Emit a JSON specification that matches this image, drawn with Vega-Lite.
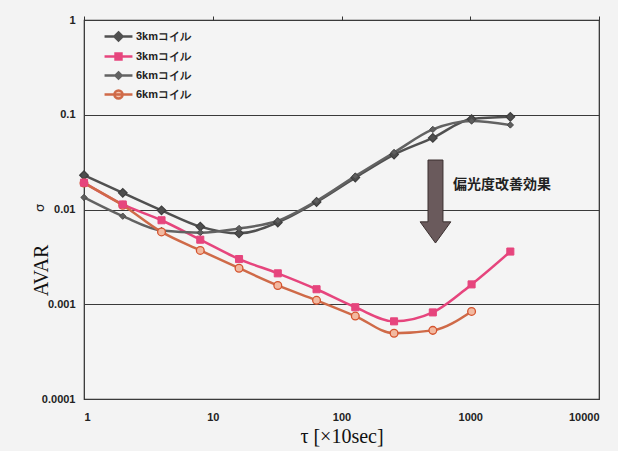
{
  "$schema": "https://vega.github.io/schema/vega-lite/v6.json",
  "width": 515,
  "height": 379,
  "autosize": {"type": "none"},
  "padding": {"left": 84, "top": 20, "right": 19, "bottom": 52},
  "background": "#f3f3f3",
  "config": {
    "view": {"stroke": "#2a2a2a", "strokeWidth": 1.2, "fill": "#f4f4f4"},
    "font": "Liberation Sans"
  },
  "datasets": {
    "avar": [
      {"s": "1_3kmコイル", "tau": 1, "avar": 0.023},
      {"s": "1_3kmコイル", "tau": 2, "avar": 0.015},
      {"s": "1_3kmコイル", "tau": 4, "avar": 0.0098},
      {"s": "1_3kmコイル", "tau": 8, "avar": 0.0066},
      {"s": "1_3kmコイル", "tau": 16, "avar": 0.0056},
      {"s": "1_3kmコイル", "tau": 32, "avar": 0.0073},
      {"s": "1_3kmコイル", "tau": 64, "avar": 0.012},
      {"s": "1_3kmコイル", "tau": 128, "avar": 0.0217},
      {"s": "1_3kmコイル", "tau": 256, "avar": 0.038},
      {"s": "1_3kmコイル", "tau": 512, "avar": 0.057},
      {"s": "1_3kmコイル", "tau": 1024, "avar": 0.09},
      {"s": "1_3kmコイル", "tau": 2048, "avar": 0.095},
      {"s": "2_3kmコイル", "tau": 1, "avar": 0.0192},
      {"s": "2_3kmコイル", "tau": 2, "avar": 0.0113},
      {"s": "2_3kmコイル", "tau": 4, "avar": 0.0077},
      {"s": "2_3kmコイル", "tau": 8, "avar": 0.0048},
      {"s": "2_3kmコイル", "tau": 16, "avar": 0.003},
      {"s": "2_3kmコイル", "tau": 32, "avar": 0.00212},
      {"s": "2_3kmコイル", "tau": 64, "avar": 0.00144},
      {"s": "2_3kmコイル", "tau": 128, "avar": 0.00093},
      {"s": "2_3kmコイル", "tau": 256, "avar": 0.00066},
      {"s": "2_3kmコイル", "tau": 512, "avar": 0.00082},
      {"s": "2_3kmコイル", "tau": 1024, "avar": 0.00162},
      {"s": "2_3kmコイル", "tau": 2048, "avar": 0.0036},
      {"s": "3_6kmコイル", "tau": 1, "avar": 0.0134},
      {"s": "3_6kmコイル", "tau": 2, "avar": 0.0085},
      {"s": "3_6kmコイル", "tau": 4, "avar": 0.006},
      {"s": "3_6kmコイル", "tau": 8, "avar": 0.0057},
      {"s": "3_6kmコイル", "tau": 16, "avar": 0.0063},
      {"s": "3_6kmコイル", "tau": 32, "avar": 0.0076},
      {"s": "3_6kmコイル", "tau": 64, "avar": 0.0123},
      {"s": "3_6kmコイル", "tau": 128, "avar": 0.0225},
      {"s": "3_6kmコイル", "tau": 256, "avar": 0.04},
      {"s": "3_6kmコイル", "tau": 512, "avar": 0.07},
      {"s": "3_6kmコイル", "tau": 1024, "avar": 0.086},
      {"s": "3_6kmコイル", "tau": 2048, "avar": 0.078},
      {"s": "4_6kmコイル", "tau": 1, "avar": 0.019},
      {"s": "4_6kmコイル", "tau": 2, "avar": 0.0111},
      {"s": "4_6kmコイル", "tau": 4, "avar": 0.0058},
      {"s": "4_6kmコイル", "tau": 8, "avar": 0.0037},
      {"s": "4_6kmコイル", "tau": 16, "avar": 0.0024},
      {"s": "4_6kmコイル", "tau": 32, "avar": 0.00158},
      {"s": "4_6kmコイル", "tau": 64, "avar": 0.0011},
      {"s": "4_6kmコイル", "tau": 128, "avar": 0.00075},
      {"s": "4_6kmコイル", "tau": 256, "avar": 0.000495},
      {"s": "4_6kmコイル", "tau": 512, "avar": 0.00053},
      {"s": "4_6kmコイル", "tau": 1024, "avar": 0.00084}
    ],
    "arrow": [{"tau": 537, "avar": 0.01214}],
    "note": [{"tau": 735, "avar": 0.0181, "label": "偏光度改善効果"}],
    "sigma": [{"tau": 0.455, "avar": 0.0104, "label": "σ"}]
  },
  "encoding": {
    "y": {
      "field": "avar", "type": "quantitative",
      "scale": {"type": "log", "domain": [0.0001, 1], "nice": false},
      "axis": {
        "values": [1, 0.1, 0.01, 0.001, 0.0001], "format": "~g",
        "grid": true, "gridColor": "#3a3a3a", "gridWidth": 1,
        "ticks": false, "tickSize": 0, "domain": false,
        "labelPadding": 9, "labelFont": "Liberation Sans", "labelFontSize": 11,
        "labelFontWeight": "bold", "labelColor": "#222",
        "title": "AVAR", "titleFont": "Liberation Serif", "titleFontSize": 20,
        "titleFontWeight": "normal", "titleColor": "#111",
        "titleAngle": 270, "titleAlign": "center", "titleBaseline": "middle",
        "titleX": -43, "titleY": 250
      }
    }
  },
  "layer": [
    {
      "data": {"name": "avar"},
      "mark": {"type": "line", "interpolate": "monotone"},
      "encoding": {
        "x": {
          "field": "tau", "type": "quantitative",
          "scale": {"type": "log", "domain": [1, 10000], "nice": false},
          "axis": {
            "orient": "bottom", "values": [1, 10, 100, 1000, 10000], "format": "~g",
            "grid": false, "ticks": false, "tickSize": 0, "domain": false,
            "labelPadding": 12, "labelFont": "Liberation Sans", "labelFontSize": 11,
            "labelFontWeight": "bold", "labelColor": "#222",
            "title": "τ [×10sec]", "titleFont": "Liberation Serif", "titleFontSize": 20,
            "titleFontWeight": "normal", "titleColor": "#111", "titlePadding": 4
          }
        },
        "color": {
          "field": "s", "type": "nominal",
          "scale": {
            "domain": ["1_3kmコイル", "2_3kmコイル", "3_6kmコイル", "4_6kmコイル"],
            "range": ["#505050", "#e6457d", "#626262", "#cf6a48"]
          },
          "legend": {
            "orient": "none", "legendX": 24, "legendY": 6, "title": null,
            "labelExpr": "slice(datum.value, 2)",
            "labelFont": "Liberation Sans", "labelFontSize": 11, "labelFontWeight": "bold",
            "labelColor": "#222", "symbolSize": 324, "rowPadding": 0, "labelOffset": 7,
            "encode": {
              "symbols": {
                "update": {
                  "shape": {"signal": "datum.value == '1_3kmコイル' ? 'M-1.55,0L1.55,0M0,-0.45L0.45,0L0,0.45L-0.45,0Z' : datum.value == '2_3kmコイル' ? 'M-1.55,0L1.55,0M-0.33,-0.33L0.33,-0.33L0.33,0.33L-0.33,0.33Z' : datum.value == '3_6kmコイル' ? 'M-1.55,0L1.55,0M0,-0.34L0.34,0L0,0.34L-0.34,0Z' : 'M-1.55,0L1.55,0M0.45,0A0.45,0.45,0,1,1,-0.45,0A0.45,0.45,0,1,1,0.45,0Z'"},
                  "fill": {"signal": "datum.value == '1_3kmコイル' ? '#505050' : datum.value == '2_3kmコイル' ? '#e6457d' : datum.value == '3_6kmコイル' ? '#626262' : '#f5c5b0'"},
                  "stroke": {"signal": "datum.value == '1_3kmコイル' ? '#505050' : datum.value == '2_3kmコイル' ? '#e6457d' : datum.value == '3_6kmコイル' ? '#626262' : '#d4532e'"},
                  "strokeWidth": {"signal": "datum.value == '1_3kmコイル' || datum.value == '2_3kmコイル' ? 2.3 : 1.2"},
                  "opacity": {"value": 1},
                  "fillOpacity": {"value": 1},
                  "strokeOpacity": {"value": 1}
                }
              }
            }
          }
        },
        "strokeWidth": {
          "field": "s", "type": "nominal",
          "scale": {"domain": ["1_3kmコイル", "2_3kmコイル", "3_6kmコイル", "4_6kmコイル"], "range": [2.5, 2.5, 1, 1]},
          "legend": null
        }
      }
    },
    {
      "data": {"name": "avar"},
      "transform": [{"filter": "datum.s == '1_3kmコイル'"}],
      "mark": {"type": "point", "shape": "diamond", "size": 75, "filled": true, "fill": "#4e4e4e", "stroke": "#3e3e3e", "strokeWidth": 1.2, "opacity": 1},
      "encoding": {
        "x": {"field": "tau", "type": "quantitative", "scale": {"type": "log", "domain": [1, 10000], "nice": false}, "axis": null}
      }
    },
    {
      "data": {"name": "avar"},
      "transform": [{"filter": "datum.s == '3_6kmコイル'"}],
      "mark": {"type": "point", "shape": "diamond", "size": 40, "filled": true, "fill": "#5e5e5e", "stroke": "#4a4a4a", "strokeWidth": 1, "opacity": 1},
      "encoding": {
        "x": {"field": "tau", "type": "quantitative", "scale": {"type": "log", "domain": [1, 10000], "nice": false}, "axis": null}
      }
    },
    {
      "data": {"name": "avar"},
      "transform": [{"filter": "datum.s == '4_6kmコイル'"}],
      "mark": {"type": "point", "shape": "circle", "size": 60, "filled": true, "fill": "#f2b9a0", "stroke": "#d4532e", "strokeWidth": 1.3, "opacity": 1},
      "encoding": {
        "x": {"field": "tau", "type": "quantitative", "scale": {"type": "log", "domain": [1, 10000], "nice": false}, "axis": null}
      }
    },
    {
      "data": {"name": "avar"},
      "transform": [{"filter": "datum.s == '2_3kmコイル'"}],
      "mark": {"type": "point", "shape": "square", "size": 50, "filled": true, "fill": "#e6457d", "stroke": "#e6457d", "strokeWidth": 1, "opacity": 1},
      "encoding": {
        "x": {"field": "tau", "type": "quantitative", "scale": {"type": "log", "domain": [1, 10000], "nice": false}, "axis": null}
      }
    },
    {
      "data": {"name": "arrow"},
      "mark": {
        "type": "point", "filled": true,
        "shape": "M-0.18,-1L0.18,-1L0.18,0.49L0.37,0.49L0,1L-0.37,0.49L-0.18,0.49Z",
        "size": 6889, "fill": "#6a5a5c", "stroke": "#3a2f2f", "strokeWidth": 1, "opacity": 1
      },
      "encoding": {
        "x": {
          "field": "tau", "type": "quantitative",
          "scale": {"type": "log", "domain": [1, 10000], "nice": false},
          "axis": {
            "orient": "top", "values": [1, 10, 100, 1000, 10000], "labels": false,
            "ticks": true, "tickSize": 4, "tickColor": "#333", "domain": false,
            "grid": false, "title": null
          }
        }
      }
    },
    {
      "data": {"name": "note"},
      "mark": {"type": "text", "align": "left", "baseline": "middle", "font": "Noto Sans CJK JP", "fontSize": 14, "fontWeight": "bold", "color": "#222"},
      "encoding": {
        "x": {"field": "tau", "type": "quantitative", "scale": {"type": "log", "domain": [1, 10000], "nice": false}, "axis": null},
        "text": {"field": "label"}
      }
    },
    {
      "data": {"name": "sigma"},
      "mark": {"type": "text", "align": "center", "baseline": "middle", "angle": 270, "font": "DejaVu Sans", "fontSize": 13, "color": "#222"},
      "encoding": {
        "x": {"field": "tau", "type": "quantitative", "scale": {"type": "log", "domain": [1, 10000], "nice": false}, "axis": null},
        "text": {"field": "label"}
      }
    }
  ],
  "resolve": {"axis": {"x": "independent"}}
}
